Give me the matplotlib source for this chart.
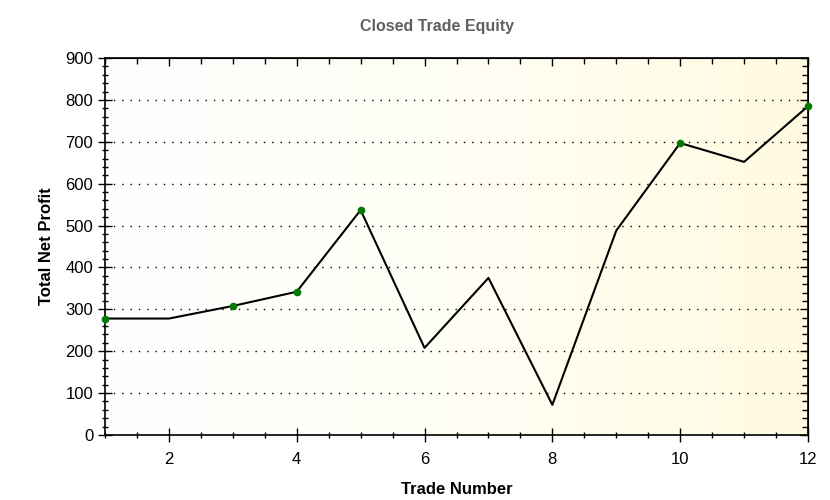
import numpy as np
import matplotlib
matplotlib.use('Agg')
import matplotlib.pyplot as plt
from matplotlib.colors import LinearSegmentedColormap
from matplotlib.ticker import MultipleLocator

plt.rcParams['font.family'] = ['Liberation Sans', 'DejaVu Sans']

# trade number vs equity
trades = [1, 2, 3, 4, 5, 6, 7, 8, 9, 10, 11, 12]
equity = [278, 278, 308, 342, 537, 208, 375, 72, 488, 697, 652, 785]
# trades that made a new equity high
high_trades = [1, 3, 4, 5, 10, 12]
high_equity = [278, 308, 342, 537, 697, 785]

fig = plt.figure(figsize=(8.3, 5.0), dpi=100)
ax = fig.add_axes([0.1265, 0.13, 0.847, 0.754])

# white -> light yellow background
cmap = LinearSegmentedColormap.from_list('bg', ['#ffffff', '#fffef5', '#fffbe0'])
grad = np.linspace(0, 1, 256).reshape(1, -1)
ax.imshow(grad, extent=[0, 1, 0, 1], transform=ax.transAxes, aspect='auto',
          cmap=cmap, zorder=0)

ax.plot(trades, equity, color='black', lw=1.5, zorder=3)
ax.plot(high_trades, high_equity, 'o', color='#007a00', ms=4.5, zorder=4, clip_on=False)

ax.set_xlim(1, 12)
ax.set_ylim(0, 900)
ax.xaxis.set_major_locator(MultipleLocator(2))
ax.xaxis.set_minor_locator(MultipleLocator(0.5))
ax.yaxis.set_major_locator(MultipleLocator(100))
ax.yaxis.set_minor_locator(MultipleLocator(20))

for y in range(100, 900, 100):
    ax.axhline(y, color='black', lw=1.0, ls=(0, (1, 5)), zorder=1)

ax.tick_params(which='both', labelsize=12, width=1, colors='black')
ax.tick_params(which='major', direction='inout', length=10)
ax.tick_params(which='minor', direction='inout', length=5)
ax.tick_params(axis='x', which='major', pad=7)
for s in ax.spines.values():
    s.set_linewidth(1.2)

# top / right: ticks pointing inward only
top = ax.secondary_xaxis('top')
top.xaxis.set_major_locator(MultipleLocator(2))
top.xaxis.set_minor_locator(MultipleLocator(0.5))
top.tick_params(which='major', direction='in', length=6, width=1, labeltop=False)
top.tick_params(which='minor', direction='in', length=4, width=1)
right = ax.secondary_yaxis('right')
right.yaxis.set_major_locator(MultipleLocator(100))
right.yaxis.set_minor_locator(MultipleLocator(20))
right.tick_params(which='major', direction='in', length=6, width=1, labelright=False)
right.tick_params(which='minor', direction='in', length=4, width=1)

fig.text(0.527, 0.948, 'Closed Trade Equity', fontsize=11.5, fontweight='bold',
         color='#606060', ha='center', va='center')
ax.set_xlabel('Trade Number', fontsize=12, fontweight='bold', labelpad=11)
ax.set_ylabel('Total Net Profit', fontsize=12, fontweight='bold', labelpad=8)

fig.savefig('out.png', dpi=100)
